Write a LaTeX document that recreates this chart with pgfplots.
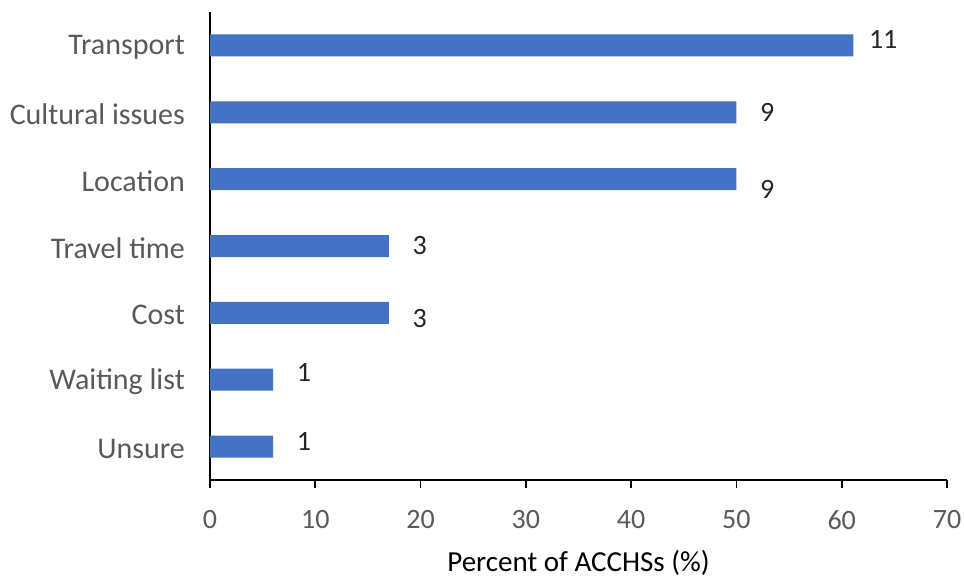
\documentclass[border=0pt]{standalone}
\usepackage{pgfplots}
\pgfplotsset{compat=1.18}
\usepackage{fontspec}
\setmainfont{Carlito}
\definecolor{barblue}{HTML}{4472C4}
\definecolor{txtgray}{HTML}{595959}
\definecolor{lblcol}{HTML}{262626}
\begin{document}
\fontsize{14pt}{17pt}\selectfont
\begin{tikzpicture}
\begin{axis}[
  name=ax,
  scale only axis,
  width=368.5pt, height=234pt,
  xmin=0, xmax=70, ymin=-0.5, ymax=6.5,
  xtick={0,10,...,70},
  ytick={0,...,6},
  yticklabels={Unsure,Waiting list,Cost,Travel time,Location,Cultural issues,Transport},
  axis x line*=bottom,
  axis y line*=left,
  axis line style={-, black, line width=0.9pt},
  tick align=outside,
  major tick length=4pt,
  xtick style={draw=black, line width=0.9pt},
  ytick style={draw=none},
  /pgf/number format/assume math mode=true,
  xticklabel style={text=txtgray, font=\fontsize{14pt}{17pt}\selectfont, yshift=-6.5pt},
  yticklabel style={text=txtgray, font=\fontsize{15pt}{18pt}\selectfont, xshift=-3.7pt, yshift=-1pt},
  xlabel={Percent of ACCHSs (\%)},
  xlabel style={text=black, font=\fontsize{14.5pt}{17pt}\selectfont, yshift=-4.5pt, inner sep=1pt},
  clip=false,
]
\addplot[xbar, bar width=11pt, bar shift=0pt, fill=barblue, draw=none,
  nodes near coords, point meta=explicit symbolic,
  visualization depends on={value \thisrow{dx} \as \dx},
  visualization depends on={value \thisrow{dy} \as \dy},
  nodes near coords style={anchor=west, text=lblcol, font=\fontsize{14pt}{17pt}\selectfont, xshift=\dx pt, yshift=\dy pt}]
  table[x=x, y=y, meta=lab] {
x    y lab dx dy
61.1 6 11  3  3
50   5 9   7  0
50   4 9   7  -5
17   3 3   7  0
17   2 3   7  -3
6    1 1   7  3.5
6    0 1   7  2.5
};
\end{axis}
\pgfresetboundingbox
\path ([shift={(-105pt,-48.5pt)}]ax.south west) rectangle ([shift={(377pt,240pt)}]ax.south west);
\end{tikzpicture}
\end{document}
